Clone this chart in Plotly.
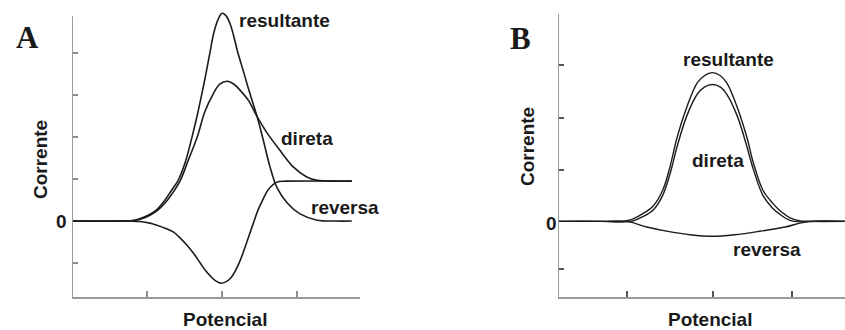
import plotly.graph_objects as go

# ---------------- Panel A (reversible system) ----------------
a_res_x = [0, 0.64, 0.84, 0.97, 1.11, 1.24, 1.33, 1.41, 1.51, 1.60, 1.67, 1.73, 1.79, 1.84,
           1.89, 1.95, 2.00, 2.05, 2.11, 2.16, 2.21, 2.28, 2.35, 2.40, 2.47, 2.55, 2.64,
           2.73, 2.87, 3.04, 3.27, 3.51, 3.73]
a_res_y = [0, 0, 0.02, 0.10, 0.24, 0.50, 0.74, 0.95, 1.40, 2.00, 2.52, 3.02, 3.55, 4.02,
           4.48, 4.81, 4.95, 4.90, 4.69, 4.38, 4.02, 3.60, 3.17, 2.88, 2.48, 1.93, 1.29,
           0.81, 0.43, 0.17, 0.02, 0, 0]

a_dir_x = [0, 0.64, 0.84, 0.97, 1.11, 1.24, 1.33, 1.44, 1.55, 1.67, 1.77, 1.88, 1.97,
           2.07, 2.16, 2.25, 2.35, 2.47, 2.60, 2.77, 2.95, 3.13, 3.27, 3.51, 3.73]
a_dir_y = [0, 0, 0.02, 0.08, 0.21, 0.43, 0.64, 0.95, 1.45, 2.00, 2.60, 3.02, 3.26,
           3.33, 3.26, 3.10, 2.88, 2.48, 2.10, 1.69, 1.29, 1.05, 0.97, 0.95, 0.95]

a_rev_x = [0, 0.77, 0.91, 1.04, 1.13, 1.24, 1.35, 1.44, 1.53, 1.63, 1.71, 1.78, 1.85,
           1.92, 1.98, 2.05, 2.12, 2.18, 2.24, 2.30, 2.36, 2.42, 2.48, 2.55, 2.61,
           2.68, 2.76, 2.85, 3.73]
a_rev_y = [0, 0, -0.01, -0.05, -0.10, -0.17, -0.26, -0.40, -0.57, -0.79, -1.00, -1.18,
           -1.32, -1.43, -1.48, -1.45, -1.35, -1.18, -0.95, -0.66, -0.35, -0.04, 0.26,
           0.53, 0.73, 0.87, 0.94, 0.95, 0.95]

a_yticks = [-1, 1, 2, 3, 4]
a_xticks = [1, 2, 3]

# ---------------- Panel B (irreversible system) ----------------
b_res_x = [0, 0.525, 0.84, 0.94, 1.06, 1.19, 1.31, 1.40, 1.49, 1.61, 1.74, 1.83, 1.93,
           2.03, 2.11, 2.24, 2.36, 2.44, 2.56, 2.68, 2.78, 2.90, 3.03, 3.15, 3.59]
b_res_y = [0, 0, 0.01, 0.05, 0.15, 0.30, 0.61, 1.06, 1.64, 2.22, 2.69, 2.83, 2.89,
           2.83, 2.69, 2.22, 1.64, 1.15, 0.61, 0.36, 0.20, 0.07, 0.01, 0, 0]

b_dir_x = b_res_x
b_dir_y = [0, 0, -0.01, 0.01, 0.09, 0.22, 0.51, 0.92, 1.46, 2.05, 2.47, 2.61, 2.66,
           2.61, 2.47, 2.05, 1.46, 1.02, 0.51, 0.26, 0.13, 0.02, -0.01, 0, 0]

b_rev_x = [0, 0.525, 0.86, 1.11, 1.39, 1.65, 1.93, 2.21, 2.49, 2.84, 3.11, 3.59]
b_rev_y = [0, 0, 0, -0.11, -0.20, -0.26, -0.29, -0.26, -0.20, -0.11, -0.01, 0]

b_yticks = [-0.93, 1, 2, 3.03]
b_xticks = [0.86, 1.94, 2.93]

W, H = 845, 330
LINE = "#1c1c1c"
AXIS = "#9a9a9a"
SANS = "Liberation Sans, Arial, sans-serif"
SERIF = "Liberation Serif, Times New Roman, serif"

fig = go.Figure()

for xs, ys in [(a_res_x, a_res_y), (a_dir_x, a_dir_y), (a_rev_x, a_rev_y)]:
    fig.add_trace(go.Scatter(x=xs, y=ys, mode="lines", xaxis="x", yaxis="y",
                             line=dict(color=LINE, width=1.6, shape="spline", smoothing=1.0),
                             hoverinfo="skip", showlegend=False))
for xs, ys in [(b_res_x, b_res_y), (b_dir_x, b_dir_y), (b_rev_x, b_rev_y)]:
    fig.add_trace(go.Scatter(x=xs, y=ys, mode="lines", xaxis="x2", yaxis="y2",
                             line=dict(color=LINE, width=1.4, shape="spline", smoothing=1.0),
                             hoverinfo="skip", showlegend=False))

# plot-area geometry (pixels) for each panel
a_left, a_right, a_bottom, a_top = 72, 360, 297, 7
a_range_y = [-1.81, 5.10]
a_axis_top = 4.88
b_left, b_right, b_bottom, b_top = 558, 845, 297, 14
b_range_y = [-1.47, 4.03]


def xdom(l, r):
    return [l / W, r / W]


def ydom(b, t):
    return [1 - b / H, 1 - t / H]


def ax(tickcolor):
    return dict(showgrid=False, zeroline=False, showticklabels=False,
                ticks="inside", ticklen=6, tickwidth=1.5, tickcolor=tickcolor)


fig.update_layout(
    width=W, height=H,
    margin=dict(l=0, r=0, t=0, b=0),
    paper_bgcolor="white", plot_bgcolor="white",
    xaxis=dict(domain=xdom(a_left, a_right), range=[0, 3.84], anchor="y",
               tickvals=a_xticks, showline=True, linecolor=AXIS, linewidth=2, **ax("#8c8c8c")),
    yaxis=dict(domain=ydom(a_bottom, a_top), range=a_range_y, anchor="x",
               tickvals=a_yticks, showline=False, **ax("#8c8c8c")),
    xaxis2=dict(domain=xdom(b_left, b_right), range=[0, 3.5875], anchor="y2",
                tickvals=b_xticks, showline=True, linecolor=AXIS, linewidth=2, **ax("#555555")),
    yaxis2=dict(domain=ydom(b_bottom, b_top), range=b_range_y, anchor="x2",
                tickvals=b_yticks, showline=False, **ax("#555555")),
)

# vertical axis lines
fig.add_shape(type="line", xref="x", yref="y", x0=0, x1=0, y0=a_range_y[0], y1=a_axis_top,
              line=dict(color=AXIS, width=2))
fig.add_shape(type="line", xref="x2", yref="y2", x0=0, x1=0, y0=b_range_y[0], y1=b_range_y[1],
              line=dict(color=AXIS, width=2))


def label(text, px, py, size=19, family=SANS, angle=0):
    fig.add_annotation(x=px / W, y=1 - py / H, xref="paper", yref="paper",
                       text=text, showarrow=False, textangle=angle,
                       xanchor="center", yanchor="middle",
                       font=dict(family=family, size=size, color="#1a1a1a", weight="bold"))


label("A", 27, 38, size=31, family=SERIF)
label("B", 520, 39, size=31, family=SERIF)

label("resultante", 284, 21)
label("direta", 307, 138)
label("reversa", 345, 207)
label("Corrente", 40, 160, angle=-90)
label("0", 61, 221)
label("Potencial", 225, 319)

label("resultante", 728, 59)
label("direta", 718, 160)
label("reversa", 767, 249)
label("Corrente", 527, 147, angle=-90)
label("0", 551, 223)
label("Potencial", 710, 319)

fig.write_html("out.html")
